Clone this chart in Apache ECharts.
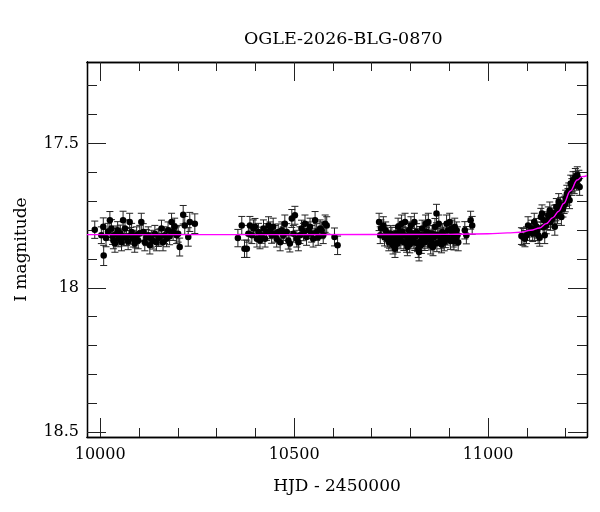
<!DOCTYPE html>
<html>
<head>
<meta charset="utf-8">
<title>OGLE-2026-BLG-0870</title>
<script src="https://cdn.jsdelivr.net/npm/echarts@6/dist/echarts.min.js"></script>
<style>
  html, body { margin: 0; padding: 0; background: #fff; }
  #chart { width: 600px; height: 512px; }
</style>
</head>
<body>
<div id="chart"></div>
<script>
// photometry, one array per season: [HJD - 2450000, I mag, error]
var season1 = [
  [9986,17.799,0.030],[10003,17.818,0.029],[10008,17.789,0.031],[10009,17.888,0.035],[10015,17.828,0.030],
  [10020,17.806,0.029],[10025,17.766,0.030],[10029,17.795,0.031],[10032,17.822,0.028],[10034,17.836,0.029],
  [10038,17.847,0.030],[10041,17.815,0.029],[10045,17.801,0.030],[10048,17.830,0.028],[10052,17.812,0.029],
  [10055,17.842,0.030],[10059,17.766,0.031],[10062,17.826,0.029],[10064,17.795,0.030],[10068,17.824,0.029],
  [10072,17.840,0.028],[10076,17.772,0.030],[10079,17.820,0.029],[10081,17.807,0.030],[10085,17.830,0.029],
  [10089,17.847,0.030],[10092,17.834,0.028],[10094,17.818,0.029],[10098,17.836,0.029],[10102,17.812,0.028],
  [10106,17.772,0.030],[10111,17.807,0.029],[10115,17.842,0.030],[10119,17.826,0.028],[10124,17.818,0.029],
  [10128,17.853,0.030],[10132,17.830,0.029],[10136,17.838,0.028],[10141,17.813,0.029],[10145,17.842,0.030],
  [10150,17.828,0.029],[10154,17.824,0.028],[10158,17.795,0.029],[10162,17.842,0.030],[10166,17.818,0.029],
  [10171,17.830,0.028],[10175,17.801,0.029],[10179,17.822,0.029],[10184,17.772,0.030],[10188,17.807,0.029],
  [10192,17.789,0.030],[10197,17.818,0.029],[10201,17.813,0.029],[10205,17.859,0.031],[10214,17.747,0.032],
  [10218,17.784,0.031],[10227,17.824,0.032],[10231,17.772,0.033],[10244,17.778,0.034]
];
var season2 = [
  [10355,17.828,0.030],[10365,17.784,0.031],[10372,17.865,0.030],[10378,17.865,0.030],[10382,17.813,0.029],
  [10386,17.784,0.031],[10391,17.818,0.029],[10395,17.795,0.030],[10399,17.789,0.029],[10404,17.830,0.029],
  [10408,17.807,0.030],[10412,17.836,0.029],[10416,17.818,0.028],[10421,17.795,0.030],[10425,17.830,0.029],
  [10429,17.807,0.029],[10434,17.784,0.030],[10438,17.801,0.029],[10442,17.818,0.028],[10446,17.789,0.030],
  [10451,17.813,0.029],[10455,17.830,0.029],[10459,17.807,0.028],[10464,17.842,0.030],[10468,17.801,0.029],
  [10472,17.818,0.029],[10476,17.778,0.030],[10481,17.807,0.029],[10485,17.836,0.030],[10489,17.847,0.029],
  [10494,17.760,0.031],[10498,17.813,0.029],[10502,17.749,0.031],[10507,17.830,0.029],[10511,17.842,0.030],
  [10515,17.818,0.029],[10519,17.795,0.029],[10524,17.807,0.030],[10528,17.778,0.030],[10532,17.824,0.029],
  [10537,17.801,0.029],[10541,17.789,0.030],[10545,17.813,0.029],[10549,17.830,0.029],[10554,17.766,0.030],
  [10558,17.807,0.029],[10562,17.824,0.029],[10567,17.795,0.030],[10571,17.801,0.029],[10575,17.818,0.029],
  [10580,17.778,0.030],[10584,17.784,0.030],[10604,17.824,0.031],[10612,17.853,0.032]
];
var season3 = [
  [10719,17.772,0.030],[10722,17.818,0.029],[10724,17.795,0.030],[10730,17.784,0.030],[10733,17.826,0.029],
  [10736,17.801,0.029],[10739,17.812,0.028],[10741,17.830,0.029],[10744,17.842,0.030],[10746,17.834,0.029],
  [10749,17.813,0.028],[10752,17.820,0.029],[10755,17.853,0.030],[10757,17.840,0.029],[10760,17.865,0.030],
  [10762,17.812,0.028],[10764,17.830,0.029],[10766,17.848,0.029],[10768,17.789,0.030],[10771,17.824,0.028],
  [10773,17.807,0.029],[10775,17.836,0.029],[10777,17.778,0.030],[10779,17.806,0.028],[10781,17.818,0.029],
  [10783,17.842,0.029],[10786,17.772,0.030],[10788,17.820,0.028],[10790,17.847,0.030],[10792,17.859,0.030],
  [10794,17.830,0.029],[10796,17.801,0.029],[10798,17.850,0.029],[10801,17.784,0.030],[10803,17.812,0.028],
  [10804,17.824,0.029],[10807,17.836,0.029],[10810,17.772,0.030],[10811,17.842,0.029],[10813,17.822,0.028],
  [10816,17.807,0.029],[10818,17.846,0.029],[10820,17.865,0.030],[10822,17.876,0.031],[10824,17.816,0.028],
  [10827,17.836,0.029],[10828,17.852,0.029],[10830,17.795,0.029],[10833,17.828,0.028],[10835,17.818,0.029],
  [10837,17.842,0.029],[10839,17.778,0.030],[10841,17.820,0.028],[10842,17.807,0.029],[10844,17.834,0.029],
  [10846,17.772,0.030],[10848,17.812,0.028],[10850,17.830,0.029],[10852,17.853,0.030],[10854,17.840,0.029],
  [10856,17.813,0.028],[10858,17.859,0.030],[10860,17.826,0.029],[10863,17.789,0.029],[10865,17.816,0.028],
  [10867,17.743,0.032],[10868,17.846,0.029],[10870,17.818,0.029],[10873,17.778,0.030],[10876,17.822,0.028],
  [10878,17.836,0.029],[10880,17.850,0.029],[10882,17.807,0.029],[10885,17.818,0.028],[10887,17.842,0.030],
  [10890,17.832,0.029],[10893,17.778,0.030],[10895,17.824,0.028],[10897,17.801,0.029],[10901,17.772,0.030],
  [10903,17.838,0.029],[10906,17.795,0.029],[10908,17.812,0.028],[10910,17.830,0.029],[10912,17.840,0.029],
  [10914,17.789,0.030],[10917,17.826,0.028],[10919,17.801,0.029],[10921,17.818,0.029],[10923,17.842,0.030],
  [10940,17.801,0.030],[10944,17.818,0.030],[10955,17.766,0.031],[10959,17.784,0.031]
];
var season4 = [
  [11086,17.821,0.029],[11090,17.824,0.029],[11095,17.830,0.028],[11099,17.818,0.029],[11103,17.784,0.030],
  [11107,17.807,0.029],[11112,17.795,0.029],[11115,17.812,0.028],[11119,17.772,0.030],[11120,17.807,0.029],
  [11125,17.789,0.029],[11127,17.800,0.028],[11129,17.818,0.029],[11133,17.827,0.029],[11136,17.755,0.030],
  [11139,17.743,0.030],[11142,17.790,0.028],[11144,17.766,0.029],[11146,17.818,0.029],[11150,17.784,0.029],
  [11152,17.770,0.028],[11155,17.749,0.029],[11159,17.732,0.029],[11161,17.772,0.029],[11163,17.752,0.028],
  [11165,17.761,0.029],[11170,17.743,0.029],[11172,17.789,0.029],[11175,17.740,0.028],[11176,17.720,0.029],
  [11179,17.749,0.029],[11182,17.703,0.029],[11185,17.732,0.029],[11187,17.715,0.028],[11189,17.755,0.029],
  [11193,17.726,0.029],[11196,17.714,0.029],[11199,17.708,0.029],[11200,17.690,0.028],[11203,17.674,0.029],
  [11206,17.685,0.029],[11208,17.665,0.028],[11210,17.697,0.029],[11213,17.639,0.029],[11216,17.651,0.029],
  [11218,17.640,0.028],[11219,17.627,0.029],[11222,17.645,0.029],[11225,17.616,0.029],[11226,17.625,0.028],
  [11228,17.633,0.029],[11230,17.610,0.029],[11234,17.622,0.029],[11236,17.651,0.029]
];

// model light curve
var modelCurve = [
  [9966,17.816],[10500,17.816],[10900,17.815],[11000,17.813],[11050,17.810],[11082,17.808],
  [11110,17.801],[11133,17.793],[11150,17.778],[11167,17.757],[11182,17.735],[11195,17.708],
  [11212,17.665],[11230,17.627],[11242,17.615],[11255,17.612]
];

var xMajorTicks = [10000, 10500, 11000];
var xMinorTicks = [10100, 10200, 10300, 10400, 10600, 10700, 10800, 10900, 11100, 11200];
var yMajorTicks = [17.5, 18, 18.5];
var yMinorTicks = [17.3, 17.4, 17.6, 17.7, 17.8, 17.9, 18.1, 18.2, 18.3, 18.4];

var serif = 'DejaVu Serif';
var allPoints = season1.concat(season2, season3, season4);

var chart = echarts.init(document.getElementById('chart'));

// one axis per tick size and side, all stacked on the same grid
function xAxisDef(pos, ticks, len, withLabels) {
  return {
    type: 'value', position: pos, min: 9966, max: 11255,
    name: withLabels ? 'HJD - 2450000' : '',
    nameLocation: 'middle', nameGap: 41,
    nameTextStyle: { fontFamily: serif, fontSize: 17, color: '#000' },
    axisLine: { show: true, lineStyle: { color: '#000', width: 1.3 } },
    axisTick: { show: true, inside: true, length: len, customValues: ticks,
                lineStyle: { color: '#222', width: 1 } },
    axisLabel: { show: withLabels, customValues: ticks, margin: 10,
                 fontFamily: serif, fontSize: 16, color: '#000',
                 formatter: function (v) { return String(v); } },
    splitLine: { show: false }
  };
}
function yAxisDef(pos, ticks, len, withLabels) {
  return {
    type: 'value', position: pos, inverse: true, min: 17.218, max: 18.517,
    name: withLabels ? 'I magnitude' : '',
    nameLocation: 'middle', nameGap: 57,
    nameTextStyle: { fontFamily: serif, fontSize: 17, color: '#000' },
    axisLine: { show: true, lineStyle: { color: '#000', width: 1.3 } },
    axisTick: { show: true, inside: true, length: len, customValues: ticks,
                lineStyle: { color: '#222', width: 1 } },
    axisLabel: { show: withLabels, customValues: ticks, margin: 8,
                 fontFamily: serif, fontSize: 16, color: '#000',
                 formatter: function (v) { return String(v); } },
    splitLine: { show: false }
  };
}

function renderErrorBar(params, api) {
  var t = api.value(0), m = api.value(1), e = api.value(2);
  var hi = api.coord([t, m - e]);
  var lo = api.coord([t, m + e]);
  var cap = 3.5;
  var style = { stroke: '#222', lineWidth: 1 };
  return {
    type: 'group',
    children: [
      { type: 'line', shape: { x1: hi[0], y1: hi[1], x2: lo[0], y2: lo[1] }, style: style },
      { type: 'line', shape: { x1: hi[0] - cap, y1: hi[1], x2: hi[0] + cap, y2: hi[1] }, style: style },
      { type: 'line', shape: { x1: lo[0] - cap, y1: lo[1], x2: lo[0] + cap, y2: lo[1] }, style: style }
    ]
  };
}

chart.setOption({
  animation: false,
  backgroundColor: '#fff',
  title: {
    text: 'OGLE-2026-BLG-0870',
    left: 239, top: 25,
    textStyle: { fontFamily: serif, fontSize: 17.5, fontWeight: 'normal', color: '#000' }
  },
  grid: { left: 87, top: 62, width: 500, height: 375 },
  xAxis: [
    xAxisDef('bottom', xMajorTicks, 19, true),
    xAxisDef('bottom', xMinorTicks, 9, false),
    xAxisDef('top', xMajorTicks, 19, false),
    xAxisDef('top', xMinorTicks, 9, false)
  ],
  yAxis: [
    yAxisDef('left', yMajorTicks, 19, true),
    yAxisDef('left', yMinorTicks, 10, false),
    yAxisDef('right', yMajorTicks, 19, false),
    yAxisDef('right', yMinorTicks, 10, false)
  ],
  series: [
    {
      type: 'custom',
      renderItem: renderErrorBar,
      encode: { x: 0, y: 1 },
      data: allPoints,
      z: 2
    },
    {
      type: 'scatter',
      symbol: 'circle',
      symbolSize: 6.5,
      itemStyle: { color: '#000', opacity: 1 },
      data: allPoints.map(function (p) { return [p[0], p[1]]; }),
      z: 3
    },
    {
      type: 'line',
      data: modelCurve,
      smooth: 0.4,
      smoothMonotone: 'x',
      showSymbol: false,
      lineStyle: { color: '#ff00ff', width: 1.4 },
      z: 4
    }
  ]
});
</script>
</body>
</html>
